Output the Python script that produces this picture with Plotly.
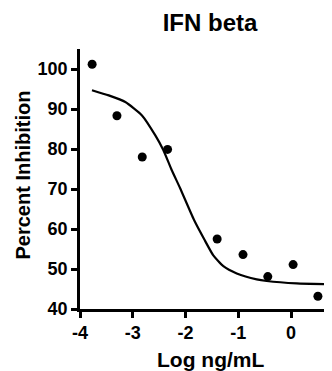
import plotly.graph_objects as go

# Measured data points
log_conc = [-3.77, -3.30, -2.82, -2.34, -1.40, -0.91, -0.44, 0.04, 0.51]
pct_inhibition = [101.2, 88.3, 78.0, 79.9, 57.5, 53.6, 48.1, 51.1, 43.2]

# Fitted curve
curve_x = [-3.773, -3.456, -3.141, -2.825, -2.572, -2.421, -2.262, -2.104,
           -1.840, -1.640, -1.473, -1.283, -1.029, -0.650, -0.461, 0.108, 0.777]
curve_y = [94.7, 93.4, 91.75, 88.4, 83.4, 79.75, 74.75, 70.25,
           62.3, 57.3, 53.4, 50.7, 48.9, 47.4, 47.0, 46.4, 46.2]

x_ticks = [-4, -3, -2, -1, 0]
y_ticks = [40, 50, 60, 70, 80, 90, 100]

FONT = "Liberation Sans, Arial, sans-serif"
OFF = 8  # page body margin of the browser
W, H = 332 - OFF, 371 - OFF
L, R, T = 80 - OFF, 0, 49 - OFF
B = H - (309 - OFF)
PW, PH = W - L - R, H - T - B


def px_to_paper(px, py):
    return (px - OFF - L) / PW, (H - B - (py - OFF)) / PH


fig = go.Figure()
fig.add_trace(go.Scatter(x=curve_x, y=curve_y, mode="lines",
                         line=dict(color="black", width=2.2, shape="spline",
                                   smoothing=0.5),
                         showlegend=False, hoverinfo="skip"))
fig.add_trace(go.Scatter(x=log_conc, y=pct_inhibition, mode="markers",
                         marker=dict(color="black", size=9),
                         showlegend=False, cliponaxis=False))

xt_x, xt_y = px_to_paper(210, 359)
yt_x, yt_y = px_to_paper(22, 175.5)
tt_x, _ = px_to_paper(210, 0)

fig.update_layout(
    width=W, height=H,
    margin=dict(l=L, r=R, t=T, b=B),
    paper_bgcolor="white", plot_bgcolor="white",
    font=dict(family=FONT, color="black"),
    title=dict(text="<b>IFN beta</b>", x=tt_x, xref="paper", xanchor="center",
               y=1 - (23 - OFF) / H, yref="container", yanchor="middle",
               font=dict(size=24, family=FONT, color="black")),
    xaxis=dict(range=[-4, 0.777], tickvals=x_ticks,
               ticktext=[f"<b>{v}</b>" for v in x_ticks],
               showgrid=False, zeroline=False, showline=True,
               linecolor="black", linewidth=2.5, automargin=False,
               ticks="outside", ticklen=6, tickwidth=2.5, tickcolor="black",
               tickfont=dict(size=18, family=FONT, color="black")),
    yaxis=dict(range=[40, 105], tickvals=y_ticks,
               ticktext=[f"<b>{v}</b>" for v in y_ticks],
               showgrid=False, zeroline=False, showline=True,
               linecolor="black", linewidth=2.5, automargin=False,
               ticks="outside", ticklen=6, tickwidth=2.5, tickcolor="black",
               tickfont=dict(size=18, family=FONT, color="black")),
    annotations=[
        dict(text="<b>Log ng/mL</b>", xref="paper", yref="paper",
             x=xt_x, y=xt_y, xanchor="center", yanchor="middle",
             showarrow=False, font=dict(size=21, family=FONT, color="black")),
        dict(text="<b>Percent Inhibition</b>", xref="paper", yref="paper",
             x=yt_x, y=yt_y, xanchor="center", yanchor="middle", textangle=-90,
             showarrow=False, font=dict(size=20, family=FONT, color="black")),
    ],
)

fig.write_html("out.html")
